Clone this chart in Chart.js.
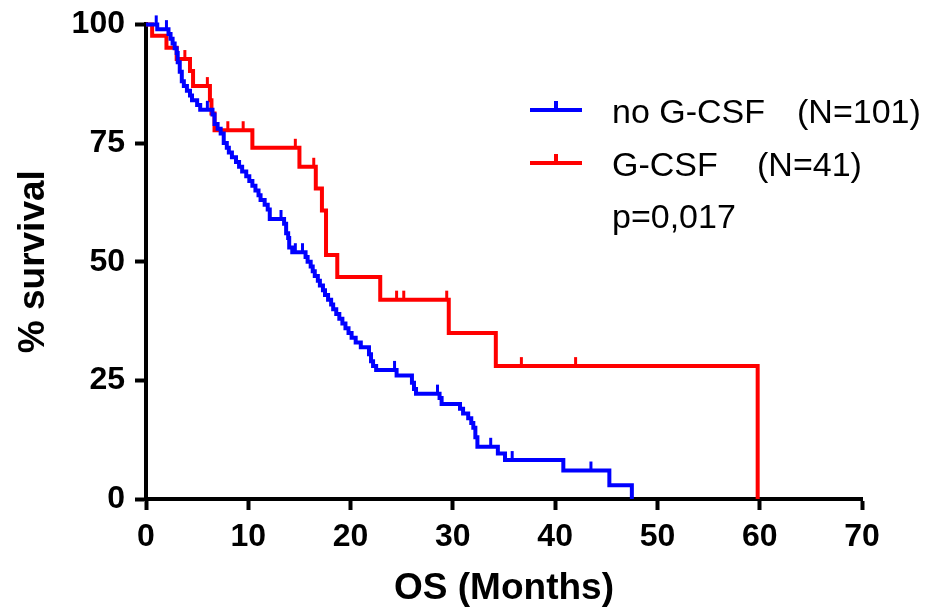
<!DOCTYPE html>
<html>
<head>
<meta charset="utf-8">
<script src="https://cdn.jsdelivr.net/npm/chart.js@4.4.0/dist/chart.umd.min.js"></script>
<style>
    html, body { margin: 0; padding: 0; background: #fff; }
    #wrap { width: 947px; height: 613px; }
</style>
</head>
<body>
<div id="wrap"><canvas id="kmChart" width="947" height="613"></canvas></div>
<script>
// Kaplan-Meier steps (months, % survival)
const blueTimes = [0, 1.1, 2.2, 2.4, 2.6, 2.8, 3.0, 3.1, 3.3, 3.5, 3.7, 4.0, 4.3, 4.5, 5.0, 5.3,
    6.5, 6.7, 7.0, 7.3, 7.6, 7.9, 8.1, 8.4, 8.8, 9.1, 9.4, 9.8, 10.1, 10.4, 10.7, 11.0, 11.2,
    11.6, 11.9, 12.1, 13.5, 13.7, 13.9, 14.0, 14.3, 15.6, 15.8, 16.1, 16.3, 16.5, 16.8, 17.0,
    17.3, 17.5, 17.8, 18.1, 18.3, 18.6, 18.9, 19.2, 19.5, 19.8, 20.1, 20.5, 21.0, 21.8, 22.0,
    22.2, 22.5, 24.5, 26.0, 26.2, 26.4, 28.7, 28.9, 30.7, 31.0, 31.5, 31.8, 32.0, 32.2, 32.4,
    34.4, 35.1, 40.8, 45.3, 47.5];
const blueSurvival = [100, 99, 98, 97, 96, 95, 94, 92, 90, 88, 87, 86, 85, 84, 83, 82,
    81, 79, 78, 77, 75, 74, 73, 72, 71, 70, 69, 68, 67, 66, 65, 64, 63,
    62, 61, 59, 58, 56, 55, 53, 52, 51, 50, 49, 48, 47, 46, 45,
    44, 43, 42, 41, 40, 39, 38, 37, 36, 35, 34, 33, 32, 30.5, 29,
    28, 27.2, 26, 24.5, 23.2, 22.2, 21.3, 20, 19, 18, 17, 16, 15, 13, 11,
    9.6, 8.2, 6, 2.9, 0];
const blueCensorTimes = [1.0, 2.0, 6.0, 13.2, 14.6, 15.3, 24.3, 28.5, 33.7, 35.8, 43.5];
const blueCensorSurvival = [100, 99, 82, 59, 52, 52, 27.2, 22.2, 11, 8.2, 6];

const redTimes = [0, 0.6, 2.0, 3.0, 4.3, 4.6, 6.25, 6.4, 6.7, 10.4, 15.0, 16.6, 17.2, 17.6,
    18.7, 22.9, 29.6, 34.2, 59.8];
const redSurvival = [100, 97.6, 95.1, 92.7, 90.2, 87.0, 84.0, 81.2, 77.7, 74.0, 70.0, 65.4,
    60.8, 51.4, 46.8, 42.0, 35.0, 28.0, 0];
const redCensorTimes = [3.8, 6.0, 8.0, 9.5, 14.6, 16.4, 24.5, 25.2, 29.4, 36.7, 42.0];
const redCensorSurvival = [92.7, 87.0, 77.7, 77.7, 74.0, 70.0, 42.0, 42.0, 42.0, 28.0, 28.0];

const groupNames = ['no G-CSF', 'G-CSF'];
const groupCounts = ['(N=101)', '(N=41)'];
const pValueText = 'p=0,017';

const BLUE = '#0000ff';
const RED = '#ff0000';

function toPoints(ts, ss) {
    return ts.map((t, i) => ({ x: t, y: ss[i] }));
}

// small upward ticks for censored patients
const censorTicks = {
    id: 'censorTicks',
    afterDatasetsDraw(chart) {
        const ctx = chart.ctx;
        const xs = chart.scales.x, ys = chart.scales.y;
        const groups = [
            [redCensorTimes, redCensorSurvival, RED],
            [blueCensorTimes, blueCensorSurvival, BLUE]
        ];
        groups.forEach(([ts, ss, col]) => {
            ctx.save();
            ctx.strokeStyle = col;
            ctx.lineWidth = 3;
            ts.forEach((t, i) => {
                const px = xs.getPixelForValue(t);
                const py = ys.getPixelForValue(ss[i]);
                ctx.beginPath();
                ctx.moveTo(px, py);
                ctx.lineTo(px, py - 9);
                ctx.stroke();
            });
            ctx.restore();
        });
    }
};

// legend + p value, drawn inside the plot like the original
const sideLegend = {
    id: 'sideLegend',
    afterDraw(chart) {
        const ctx = chart.ctx;
        const colors = [BLUE, RED];
        const rows = [110, 163];
        const countX = [797, 757];
        ctx.save();
        ctx.font = '34px "Liberation Sans", Arial, sans-serif';
        ctx.fillStyle = '#000';
        ctx.textBaseline = 'alphabetic';
        rows.forEach((y, i) => {
            ctx.strokeStyle = colors[i];
            ctx.lineWidth = 4;
            ctx.beginPath();
            ctx.moveTo(530, y);
            ctx.lineTo(582, y);
            ctx.moveTo(556, y);
            ctx.lineTo(556, y - 9);
            ctx.stroke();
            ctx.fillText(groupNames[i], 612, y + 13);
            ctx.fillText(groupCounts[i], countX[i], y + 13);
        });
        ctx.fillText(pValueText, 612, 228);
        ctx.restore();
    }
};

document.addEventListener('DOMContentLoaded', function() {
    const ctx = document.getElementById('kmChart').getContext('2d');
    new Chart(ctx, {
        type: 'line',
        data: {
            datasets: [{
                label: groupNames[0],
                data: toPoints(blueTimes, blueSurvival),
                borderColor: BLUE,
                borderWidth: 4,
                stepped: 'before',
                pointRadius: 0,
                fill: false,
                clip: false
            }, {
                label: groupNames[1],
                data: toPoints(redTimes, redSurvival),
                borderColor: RED,
                borderWidth: 4,
                stepped: 'before',
                pointRadius: 0,
                fill: false,
                clip: false
            }]
        },
        options: {
            responsive: false,
            animation: false,
            events: [],
            layout: {
                padding: { left: 0, right: 85, top: 24, bottom: 0 }
            },
            plugins: {
                legend: { display: false },
                tooltip: { enabled: false }
            },
            scales: {
                x: {
                    type: 'linear',
                    min: 0,
                    max: 70,
                    afterFit: function(scale) { scale.height = 114; },
                    ticks: {
                        stepSize: 10,
                        color: '#000',
                        padding: 8,
                        maxRotation: 0,
                        font: { family: '"Liberation Sans", Arial, sans-serif', size: 32, weight: 'bold' }
                    },
                    grid: {
                        drawOnChartArea: false,
                        tickLength: 11,
                        tickWidth: 4,
                        tickColor: '#000'
                    },
                    border: { color: '#000', width: 4 },
                    title: {
                        display: true,
                        text: 'OS (Months)',
                        color: '#000',
                        padding: { top: 0, bottom: 2 },
                        font: { family: '"Liberation Sans", Arial, sans-serif', size: 37, weight: 'bold' }
                    }
                },
                y: {
                    min: 0,
                    max: 100,
                    afterFit: function(scale) { scale.width = 146; },
                    ticks: {
                        stepSize: 25,
                        color: '#000',
                        padding: 10,
                        font: { family: '"Liberation Sans", Arial, sans-serif', size: 32, weight: 'bold', lineHeight: 0.9 }
                    },
                    grid: {
                        drawOnChartArea: false,
                        tickLength: 11,
                        tickWidth: 4,
                        tickColor: '#000'
                    },
                    border: { color: '#000', width: 4 },
                    title: {
                        display: true,
                        text: '% survival',
                        color: '#000',
                        padding: { top: 12, bottom: 0 },
                        font: { family: '"Liberation Sans", Arial, sans-serif', size: 37, weight: 'bold' }
                    }
                }
            }
        },
        plugins: [censorTicks, sideLegend]
    });
});
</script>
</body>
</html>
